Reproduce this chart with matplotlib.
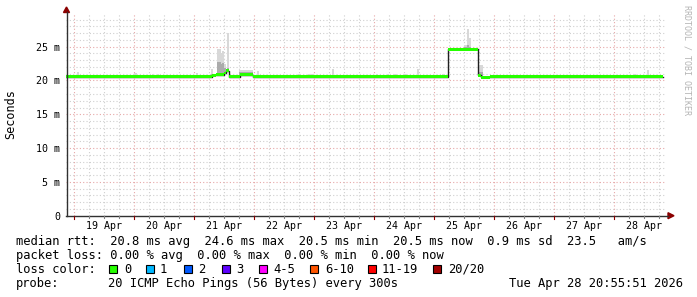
import matplotlib
matplotlib.use("Agg")
import matplotlib.pyplot as plt
from matplotlib.patches import Polygon, Rectangle
import numpy as np

plt.rcParams['font.family'] = ['DejaVu Sans Mono']

# ---- data (time in hours since 18 Apr 00:00, values in ms) ----
t_start = 20.93
t_end = 260.93
median_t = [20.93, 79.3, 80.9, 84.1, 84.9, 86.1, 90.5, 95.7, 173.7, 185.7, 186.9, 190.5, 259.7]
median_v = [20.55, 20.75, 20.85, 21.1, 21.45, 20.55, 20.85, 20.55, 24.6, 20.8, 20.5, 20.55, 20.55]

smoke_t0 = [25.2, 48.1, 55.2, 57.2, 72.9, 78.9, 81.2, 82.8, 83.5, 84.3, 85.2, 90.3, 97.2, 113.7, 117.7,
            127.2, 144.9, 149.2, 151.7, 155.7, 161.2, 171.2, 180.1, 181.2, 182.1, 186.1, 247.7, 253.2]
smoke_t1 = [26.0, 49.2, 56.0, 58.0, 73.7, 79.8, 82.8, 83.5, 84.3, 85.0, 86.1, 95.8, 98.1, 114.5, 119.7,
            128.0, 145.7, 150.0, 153.2, 157.2, 162.0, 172.5, 181.2, 182.1, 182.9, 187.7, 248.9, 254.0]
smoke_lo = [20.5, 20.5, 20.5, 20.5, 20.5, 20.6, 20.7, 20.8, 20.9, 21.0, 21.2, 20.7, 20.5, 20.5, 20.5,
            20.5, 20.5, 20.5, 20.5, 20.5, 20.5, 20.5, 24.6, 24.6, 24.6, 20.6, 20.5, 20.5]
smoke_hi = [21.2, 21.1, 21.0, 21.0, 21.1, 21.65, 24.6, 24.0, 24.4, 22.5, 27.1, 21.6, 21.4, 21.0, 21.0,
            21.7, 20.9, 20.9, 20.9, 21.0, 21.7, 21.0, 25.2, 27.6, 26.3, 22.3, 20.9, 21.6]
smoke_mid = [20.6, 20.6, 20.6, 20.6, 20.6, 20.9, 22.8, 22.5, 22.6, 21.8, 21.9, 21.3, 20.7, 20.6, 20.6,
             20.6, 20.6, 20.6, 20.6, 20.6, 20.6, 20.6, 24.9, 25.2, 24.9, 21.2, 20.6, 20.6]

day_labels = ["19 Apr", "20 Apr", "21 Apr", "22 Apr", "23 Apr", "24 Apr", "25 Apr", "26 Apr", "27 Apr", "28 Apr"]
ytick_vals = [0, 5, 10, 15, 20, 25]
ytick_labels = ["0", "5 m", "10 m", "15 m", "20 m", "25 m"]

loss_labels = ["0", "1", "2", "3", "4-5", "6-10", "11-19", "20/20"]
loss_colors = ["#26ff00", "#00b8ff", "#0059ff", "#5e00ff", "#ff00ff", "#ff5500", "#ff0000", "#a10000"]

legend_rtt = "median rtt:  20.8 ms avg  24.6 ms max  20.5 ms min  20.5 ms now  0.9 ms sd  23.5   am/s"
legend_loss = "packet loss: 0.00 % avg  0.00 % max  0.00 % min  0.00 % now"
probe_text = "20 ICMP Echo Pings (56 Bytes) every 300s"
date_text = "Tue Apr 28 20:55:51 2026"

# ---- figure ----
W, H = 697, 297
fig = plt.figure(figsize=(W / 100, H / 100), dpi=100)
fig.patch.set_facecolor("white")

x0, x1 = 66, 666
y0, ytop = 215.7, 12.9
ax = fig.add_axes([x0 / W, (H - y0) / H, (x1 - x0) / W, (y0 - ytop) / H])
ax.set_xlim(t_start, t_end)
ax.set_ylim(0, 30)
for s in ax.spines.values():
    s.set_visible(False)

def fx(px):
    return px / W

def fy(py):
    return 1 - py / H

# grid
minor_col = "#cfcfcf"
major_col = "#e6a8a8"
dot = (0, (1, 2))
for v in range(0, 31):
    if v % 5 == 0:
        continue
    ax.axhline(v, color=minor_col, lw=0.8, ls=dot, zorder=0)
for h in np.arange(24, t_end, 6):
    if h % 24 == 0:
        continue
    ax.axvline(h, color=minor_col, lw=0.8, ls=dot, zorder=0)
for v in range(5, 30, 5):
    ax.axhline(v, color=major_col, lw=0.8, ls=dot, zorder=0.5)
for h in range(24, int(t_end), 24):
    ax.axvline(h, color=major_col, lw=0.8, ls=dot, zorder=0.5)

# smoke
for a, b, lo, hi, mid in zip(smoke_t0, smoke_t1, smoke_lo, smoke_hi, smoke_mid):
    ax.fill_between([a, b], [lo, lo], [hi, hi], color="#d8d8d8", lw=0, zorder=2)
    ax.fill_between([a, b], [lo, lo], [mid, mid], color="#ababab", lw=0, zorder=2.1)

# median
mt = np.array(median_t + [t_end - 1.2])
mv = np.array(median_v + [median_v[-1]])
ax.step(mt, mv, where="post", color="#202020", lw=1.0, zorder=3)
ax.fill_between(mt, mv - 0.21, mv + 0.21, step="post", color="#26ff00", lw=0, zorder=4)

# ticks
ax.set_yticks(ytick_vals)
ax.set_yticklabels(ytick_labels, fontsize=7.2)
ax.set_xticks([24 * (i + 1) + 12 for i in range(len(day_labels))])
ax.set_xticklabels(day_labels, fontsize=7.2)
ax.tick_params(axis="both", length=0)
ax.tick_params(axis="y", pad=4.3)
ax.tick_params(axis="x", pad=3.5)

# axes lines + arrows
axcol = "#303030"
arrow_col = "#8b0000"
fig.add_artist(plt.Line2D([fx(66), fx(668)], [fy(215.7), fy(215.7)], color=axcol, lw=1))
fig.add_artist(plt.Line2D([fx(66.5), fx(66.5)], [fy(215.7), fy(12)], color=axcol, lw=1))
fig.add_artist(Polygon([[fx(668), fy(212.7)], [fx(668), fy(218.7)], [fx(674), fy(215.7)]],
                       closed=True, color=arrow_col, transform=fig.transFigure))
fig.add_artist(Polygon([[fx(63.5), fy(12.5)], [fx(69.5), fy(12.5)], [fx(66.5), fy(7)]],
                       closed=True, color=arrow_col, transform=fig.transFigure))

# small tick marks under x-axis
for h in np.arange(24, t_end, 6):
    px = x0 + (h - t_start) / (t_end - t_start) * (x1 - x0)
    fig.add_artist(plt.Line2D([fx(px), fx(px)], [fy(215.7), fy(218.5 if h % 24 == 0 else 217.5)],
                              color=arrow_col if h % 24 == 0 else "#808080", lw=0.8))

# labels
fig.text(fx(11), fy(114), "Seconds", rotation=90, ha="center", va="center", fontsize=8.5)
fig.text(fx(687), fy(60), "RRDTOOL / TOBI OETIKER", rotation=270, ha="center", va="center",
         fontsize=6, color="#b4b4b4")

fs = 8.7
fig.text(fx(16), fy(241.7), legend_rtt, ha="left", va="center", fontsize=fs)
fig.text(fx(16), fy(255.5), legend_loss, ha="left", va="center", fontsize=fs)
fig.text(fx(16), fy(269.3), "loss color:", ha="left", va="center", fontsize=fs)
fig.text(fx(16), fy(283.3), "probe:", ha="left", va="center", fontsize=fs)
fig.text(fx(108), fy(283.3), probe_text, ha="left", va="center", fontsize=fs)
fig.text(fx(683), fy(283.3), date_text, ha="right", va="center", fontsize=fs)

box_x = [109, 146, 184, 221.6, 258.7, 310, 368, 433]
lab_x = [124, 160, 198, 236, 273, 325, 382, 448]
for bx, lx, lab, col in zip(box_x, lab_x, loss_labels, loss_colors):
    fig.add_artist(Rectangle((fx(bx), fy(273.3)), 8 / W, 8 / H, facecolor=col, edgecolor="black",
                             lw=0.8, transform=fig.transFigure))
    fig.text(fx(lx), fy(269.3), lab, ha="left", va="center", fontsize=fs)

fig.savefig("out.png", dpi=100, facecolor="white")
